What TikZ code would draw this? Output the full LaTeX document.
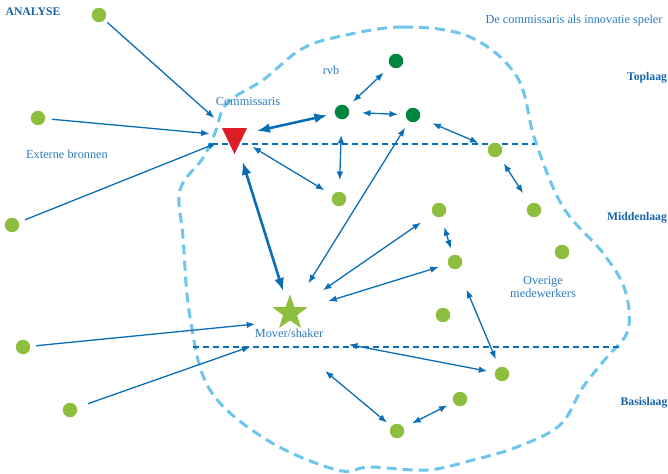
\documentclass[tikz,border=0pt]{standalone}
\usepackage{fontspec}
\setmainfont{Liberation Serif}
\usetikzlibrary{arrows.meta,shapes.geometric}
\definecolor{arrowblue}{RGB}{10,110,182}
\definecolor{blobblue}{RGB}{110,198,236}
\definecolor{lightgreen}{RGB}{141,190,61}
\definecolor{darkgreen}{RGB}{0,133,62}
\definecolor{trired}{RGB}{222,30,38}
\definecolor{textblue}{RGB}{45,122,190}
\definecolor{titleblue}{RGB}{22,100,170}

\begin{document}
\begin{tikzpicture}[x=1pt,y=-1pt]
		\tikzset{spot/.style={circle,fill=#1,minimum size=14.5pt,inner sep=0pt},
			lbl/.style={text=textblue,font=\fontsize{12.3}{12.7}\selectfont,align=center},
			laag/.style={text=titleblue,font=\fontsize{11.7}{13}\selectfont\bfseries},
			feed/.style={draw=arrowblue,line width=1.3pt,-{Latex[length=8.5pt,width=6.5pt]}},
			link/.style={draw=arrowblue,line width=1.3pt,{Latex[length=8.5pt,width=6.5pt]}-{Latex[length=8.5pt,width=6.5pt]}},
			strong/.style={draw=arrowblue,line width=2.6pt,{Latex[length=13pt,width=10pt]}-{Latex[length=13pt,width=10pt]}},
			layer/.style={draw=arrowblue,line width=1.3pt,dash pattern=on 6pt off 4pt}}
		\useasboundingbox (0,0) rectangle (668,473);

		\draw[blobblue,line width=3pt,dash pattern=on 10pt off 6pt] plot[smooth cycle,tension=0.6] coordinates {
			(337,37) (403,27) (470,37) (517,77) (535,140) (563,207) (603,253) (625,290) (628,330) (607,357)
			(583,387) (560,425) (517,447) (473,460) (427,470) (370,467) (337,470) (267,440) (210,390) (190,317)
			(183,237) (180,190) (203,158) (215,133) (227,103) (263,80) (300,50)};
		\draw[layer] (212,144) -- (535,144);
		\draw[layer] (193,347) -- (620,347);

		\node [spot=lightgreen] (ext1) at (99,15) {};
		\node [spot=lightgreen] (ext2) at (38,118) {};
		\node [spot=lightgreen] (ext3) at (12,225) {};
		\node [spot=lightgreen] (ext4) at (23,347) {};
		\node [spot=lightgreen] (ext5) at (70,410) {};
		\node [spot=darkgreen] (rvb1) at (396,61) {};
		\node [spot=darkgreen] (rvb2) at (342,112) {};
		\node [spot=darkgreen] (rvb3) at (413,115) {};
		\node [spot=lightgreen] (mid1) at (495,150) {};
		\node [spot=lightgreen] (mid2) at (534,210) {};
		\node [spot=lightgreen] (mid3) at (339,199) {};
		\node [spot=lightgreen] (mid4) at (439,210) {};
		\node [spot=lightgreen] (mid5) at (455,262) {};
		\node [spot=lightgreen] (mid6) at (443,315) {};
		\node [spot=lightgreen] (mid7) at (562,252) {};
		\node [spot=lightgreen] (bas1) at (502,374) {};
		\node [spot=lightgreen] (bas2) at (460,399) {};
		\node [spot=lightgreen] (bas3) at (397,431) {};
		\node [isosceles triangle,isosceles triangle stretches,shape border rotate=-90,minimum width=25pt,minimum height=26pt,inner sep=0pt,fill=trired] (comm) at (234.5,136) {};
		\node [star,star points=5,star point ratio=2.5,minimum size=37pt,inner sep=0pt,fill=lightgreen] (mover) at (290,313) {};

		\node [laag] (analyse) at (33,12) {ANALYSE};
		\node [lbl,anchor=east] (titel) at (666,21) {De commissaris als innovatie speler};
		\node [lbl] (commlbl) at (248,101) {Commissaris};
		\node [lbl] (rvblbl) at (331,70) {rvb};
		\node [lbl] (extlbl) at (67,154) {Externe bronnen};
		\node [lbl] (moverlbl) at (289,333) {Mover/shaker};
		\node [lbl] (overig) at (543,287) {Overige\\medewerkers};
		\node [laag] (top) at (647,78) {Toplaag};
		\node [laag] (midden) at (637,218) {Middenlaag};
		\node [laag] (basis) at (644,403) {Basislaag};

		\draw[feed,shorten <=11pt,shorten >=27pt] (ext1.center) -- (comm.center);
		\draw[feed,shorten <=14pt,shorten >=25pt] (ext2.center) -- (comm.center);
		\draw[feed,shorten <=14pt,shorten >=19pt] (ext3.center) -- (comm.center);
		\draw[feed,shorten <=13pt,shorten >=35pt] (ext4.center) -- (mover.south);
		\draw[feed,shorten <=19pt,shorten >=41pt] (ext5.center) -- (moverlbl.center);
		\draw[strong,shorten <=23pt,shorten >=15pt] (comm.center) -- (rvb2.center);
		\draw[strong,shorten <=27pt,shorten >=23pt] (comm.center) -- (mover.center);
		\draw[link,shorten <=15pt,shorten >=17pt] (rvb2.center) -- (rvb1.center);
		\draw[link,shorten <=20pt,shorten >=15pt] (rvb2.center) -- (rvb3.center);
		\draw[link,shorten <=21pt,shorten >=18pt] (rvb3.center) -- (mid1.center);
		\draw[link,shorten <=23pt,shorten >=19pt] (rvb2.center) -- (mid3.center);
		\draw[link,shorten <=16pt,shorten >=20pt] (mid1.center) -- (mid2.center);
		\draw[link,shorten <=21pt,shorten >=17pt] (comm.center) -- (mid3.center);
		\draw[link,shorten <=15pt,shorten >=35pt] (rvb3.center) -- (mover.center);
		\draw[link,shorten <=40pt,shorten >=22pt] (mover.center) -- (mid4.center);
		\draw[link,shorten <=40pt,shorten >=17pt] (mover.center) -- (mid5.center);
		\draw[link,shorten <=18pt,shorten >=14pt] (mid4.center) -- (mid5.center);
		\draw[link,shorten <=30pt,shorten >=16pt] (mid5.center) -- (bas1.center);
		\draw[link,shorten <=15pt,shorten >=61pt] (bas1.center) -- (moverlbl.center);
		\draw[link,shorten <=13pt,shorten >=47pt] (bas3.center) -- (moverlbl.south);
		\draw[link,shorten <=17pt,shorten >=14pt] (bas3.center) -- (bas2.center);
	\end{tikzpicture}
\end{document}
